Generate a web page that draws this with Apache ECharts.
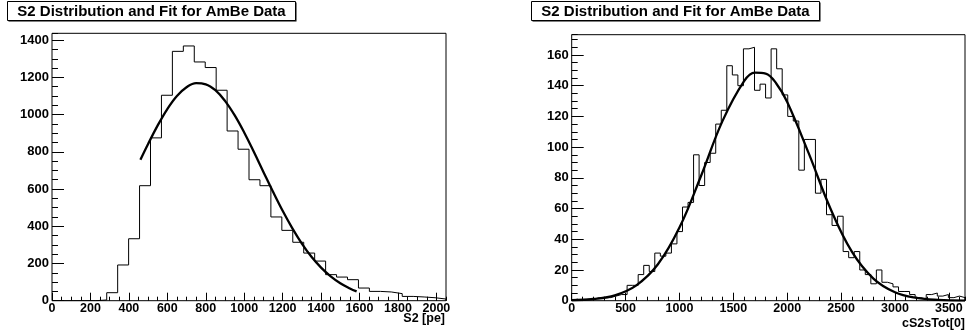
<!DOCTYPE html>
<html>
<head>
<meta charset="utf-8">
<script src="https://cdn.jsdelivr.net/npm/echarts@6/dist/echarts.min.js"></script>
<style>
  html, body { margin: 0; padding: 0; background: #fff; }
  #chart { width: 967px; height: 335px; }
</style>
</head>
<body>
<div id="chart"></div>
<script>
// ---- Left pad: S2 [pe] histogram (36 bins over 0..2050) ----
const s2Range = [0, 2050];
const s2Counts = [0, 0, 0, 0, 4, 43, 192, 333, 618, 875, 1104, 1340, 1369, 1283, 1253, 1131,
  912, 814, 650, 618, 450, 378, 314, 256, 213, 140, 127, 113, 68, 50, 47, 38, 23, 20, 16, 9];
const s2FitX = [460, 500, 550, 600, 650, 700, 750, 800, 850, 900, 950, 1000, 1050, 1100,
  1150, 1200, 1250, 1300, 1350, 1400, 1450, 1500, 1550, 1585];
const s2FitY = [757, 842, 942, 1030, 1100, 1147, 1169, 1163, 1131, 1074, 997, 904, 800, 692,
  585, 483, 390, 307, 236, 178, 131, 94, 66, 50];
const s2YMax = 1437;

// ---- Right pad: cS2sTot[0] histogram (71 bins over 0..3650) ----
const cs2Range = [0, 3650];
const cs2Counts = [1, 0, 1, 1, 2, 2, 2, 3, 4, 4, 10, 10, 17, 23, 19, 31, 29, 31, 37, 45,
  61, 64, 95, 75, 90, 96, 115, 124, 153, 147, 140, 164, 165, 137, 141, 132, 164, 151, 134, 120,
  117, 85, 105, 105, 70, 79, 56, 49, 55, 32, 28, 32, 20, 17, 11, 20, 12, 11, 9, 6,
  6, 4, 2, 1, 4, 5, 3, 4, 2, 3, 2];
const cs2FitX = [0, 200, 400, 600, 800, 1000, 1200, 1400, 1600, 1700, 1800, 1900, 2000,
  2200, 2400, 2600, 2800, 3000, 3200, 3400, 3650];
const cs2FitY = [0.3, 1.1, 3.5, 10.0, 23.7, 47.6, 81.2, 117.1, 143.0, 148.5, 147.9, 141.3, 129.4,
  95.9, 60.2, 31.9, 14.4, 5.5, 1.8, 0.5, 0.1];
const cs2YMax = 173.2;

const titleText = 'S2 Distribution and Fit for AmBe Data';
const FONT = '"Liberation Sans", Arial, Helvetica, sans-serif';

// Outline of a fixed-width histogram as a step polyline
function histOutline(counts, range) {
  const w = (range[1] - range[0]) / counts.length;
  const pts = [[range[0], 0]];
  counts.forEach((c, i) => {
    pts.push([range[0] + i * w, c], [range[0] + (i + 1) * w, c]);
  });
  pts.push([range[1], 0]);
  return pts;
}
const zip = (xs, ys) => xs.map((x, i) => [x, ys[i]]);

function majorAxis(grid, min, max, interval, isX, tickLen) {
  return {
    type: 'value', gridIndex: grid, min: min, max: max, interval: interval,
    position: isX ? 'bottom' : 'left',
    axisLine: { show: false },
    axisTick: { show: true, inside: true, length: tickLen, lineStyle: { color: '#000', width: 1 } },
    axisLabel: {
      margin: isX ? 1 : 3, showMaxLabel: false, formatter: (v) => String(v),
      color: '#000', fontSize: isX ? 12.5 : 13, fontWeight: 'bold', fontFamily: FONT
    },
    splitLine: { show: false }
  };
}
function minorAxis(grid, min, max, interval, isX, tickLen) {
  return {
    type: 'value', gridIndex: grid, min: min, max: max, interval: interval,
    position: isX ? 'bottom' : 'left',
    axisLine: { show: false },
    axisTick: { show: true, inside: true, length: tickLen, lineStyle: { color: '#000', width: 1 } },
    axisLabel: { show: false },
    splitLine: { show: false }
  };
}

function titleBox(x) {
  return {
    type: 'group',
    children: [
      { type: 'rect', shape: { x: x + 1, y: 2.5, width: 288, height: 19 }, style: { fill: '#000' } },
      { type: 'rect', shape: { x: x, y: 1.5, width: 288, height: 19 }, style: { fill: '#fff', stroke: '#000', lineWidth: 1 } },
      { type: 'text', x: x + 144, y: 11.5,
        style: { text: titleText, fill: '#000', fontSize: 15, fontWeight: 'bold', fontFamily: FONT,
                 align: 'center', verticalAlign: 'middle' } }
    ]
  };
}

const chart = echarts.init(document.getElementById('chart'), null, { renderer: 'canvas' });
chart.setOption({
  animation: false,
  backgroundColor: '#fff',
  grid: [
    { left: 52, top: 33.3, width: 394, height: 267.4, show: true, borderColor: '#000', borderWidth: 1,
      backgroundColor: 'transparent', containLabel: false, outerBoundsMode: 'none' },
    { left: 571.7, top: 34.7, width: 393.3, height: 266, show: true, borderColor: '#000', borderWidth: 1,
      backgroundColor: 'transparent', containLabel: false, outerBoundsMode: 'none' }
  ],
  xAxis: [
    majorAxis(0, s2Range[0], s2Range[1], 200, true, 8),
    minorAxis(0, s2Range[0], s2Range[1], 50, true, 4),
    majorAxis(1, cs2Range[0], cs2Range[1], 500, true, 8),
    minorAxis(1, cs2Range[0], cs2Range[1], 100, true, 4)
  ],
  yAxis: [
    majorAxis(0, 0, s2YMax, 200, false, 12),
    minorAxis(0, 0, s2YMax, 50, false, 6),
    majorAxis(1, 0, cs2YMax, 20, false, 12),
    minorAxis(1, 0, cs2YMax, 5, false, 6)
  ],
  series: [
    { type: 'line', xAxisIndex: 0, yAxisIndex: 0, data: histOutline(s2Counts, s2Range),
      showSymbol: false, symbol: 'none', lineStyle: { color: '#000', width: 1 }, z: 3 },
    { type: 'line', xAxisIndex: 0, yAxisIndex: 0, data: zip(s2FitX, s2FitY), smooth: 0.4,
      showSymbol: false, symbol: 'none', lineStyle: { color: '#000', width: 2.3 }, z: 4 },
    { type: 'line', xAxisIndex: 2, yAxisIndex: 2, data: histOutline(cs2Counts, cs2Range),
      showSymbol: false, symbol: 'none', lineStyle: { color: '#000', width: 1 }, z: 3 },
    { type: 'line', xAxisIndex: 2, yAxisIndex: 2, data: zip(cs2FitX, cs2FitY), smooth: 0.4,
      showSymbol: false, symbol: 'none', lineStyle: { color: '#000', width: 2.3 }, z: 4 }
  ],
  graphic: [
    titleBox(7.5),
    titleBox(531.5),
    { type: 'text', x: 445, y: 319,
      style: { text: 'S2 [pe]', fill: '#000', fontSize: 12.5, fontWeight: 'bold', fontFamily: FONT,
               align: 'right', verticalAlign: 'middle' } },
    { type: 'text', x: 965, y: 323.5,
      style: { text: 'cS2sTot[0]', fill: '#000', fontSize: 12.5, fontWeight: 'bold', fontFamily: FONT,
               align: 'right', verticalAlign: 'middle' } }
  ]
});
</script>
</body>
</html>
